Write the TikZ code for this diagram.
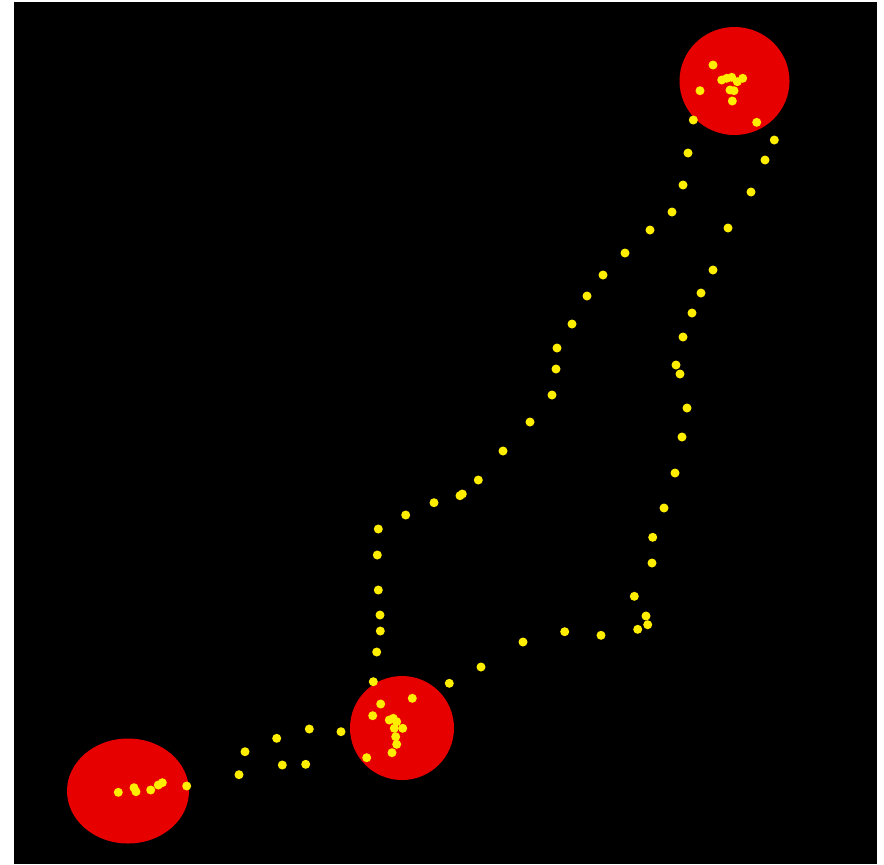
\documentclass[tikz,border=0pt]{standalone}
\definecolor{blobred}{RGB}{230,0,0}
\definecolor{dotyellow}{RGB}{255,238,0}
\tikzset{
  blob/.style={fill=blobred, draw=none},
  dot/.style={fill=dotyellow, draw=none},
}
\begin{document}
\begin{tikzpicture}[x=0.75pt,y=-0.75pt]
\useasboundingbox (0,0) rectangle (884,864);
\fill[white] (0,0) rectangle (884,864);
\fill[black] (14,2) rectangle (877,864);
% red blobs
\fill[blob] (734.5,81) ellipse [x radius=55, y radius=54];
\fill[blob] (402,728) ellipse [x radius=52, y radius=52];
\fill[blob] (128,791) ellipse [x radius=61, y radius=52.5];
% yellow dots
\foreach \px/\py in {
  713/65, 721.7/80, 726.7/78.3, 731.7/77.3, 737.3/81.7, 742.7/78.3, 730/90, 734/90.7,
  700/90.7, 732.3/101, 693.3/120, 756.7/122.3, 774.3/140,
  688/153, 683/185, 672/212, 650/230, 625/253, 603/275, 587/296, 572/324, 557/348,
  556/369, 552/395, 530/422, 503/451, 478.3/480, 460/495.7, 462.3/494, 434/502.7,
  405.7/515, 378.3/529, 377.3/555, 378.3/590, 380/615, 380.3/631, 376.7/652,
  765/160, 751/192, 728/228, 713/270, 701/293, 692/313, 683/337, 676/365, 680/374,
  687/408, 682/437, 675/473, 664/508, 652.7/537.3, 652/563, 634.3/596.3, 646/616,
  647.7/624.7, 637.7/629.3, 601/635.3, 564.7/631.7, 523/642, 481/667,
  373.3/681.7, 449.3/683.3, 412.3/698.3, 380.7/704, 372.7/715.7, 389.3/720,
  393.3/718.3, 396.7/721.7, 394.3/728.3, 402.7/728.3, 395.7/736.7, 396.7/744.3,
  392/752.7, 366.7/757.7, 341/731.7,
  118.3/792.3, 134/787.7, 136/791.7, 150.7/790, 158.3/785, 162.3/782.7, 186.7/786,
  239/774.7, 245/751.7, 276.7/738.3, 282.3/765, 305.7/764.3, 309.3/729}
  \fill[dot] (\px,\py) circle [radius=4.5];
\end{tikzpicture}
\end{document}
